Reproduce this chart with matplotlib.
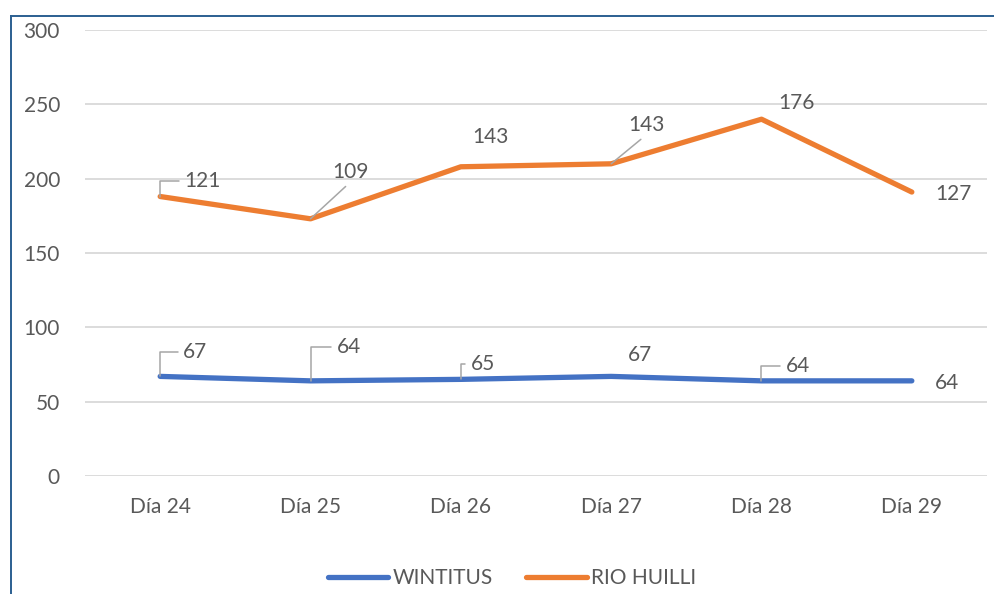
import matplotlib
matplotlib.use("Agg")
import matplotlib.pyplot as plt
import numpy as np
from matplotlib.lines import Line2D

categories = ["Día 24", "Día 25", "Día 26", "Día 27", "Día 28", "Día 29"]
wintitus = np.array([67, 64, 65, 67, 64, 64])
rio_huilli = np.array([121, 109, 143, 143, 176, 127])
y_ticks = [0, 50, 100, 150, 200, 250, 300]

# stacked line chart: second series sits on top of the first
rio_stacked = wintitus + rio_huilli

# label offsets in pixels (text left / centre) and leader style per point
blue_offsets = [(23, 24), (26, 34), (10, 15), (17, 21), (24, 15), (23, -2)]
blue_leaders = ["elbow", "elbow", "elbow", None, "elbow", None]
orange_offsets = [(24, 16), (22, 47), (11, 30), (17, 39), (17, 16), (23, -2)]
orange_leaders = ["elbow", "diag", None, "diag", None, None]

text_color = "#595959"
blue = "#4472C4"
orange = "#ED7D31"
font = "Lato"

plt.rcParams["font.family"] = [font, "DejaVu Sans"]

fig = plt.figure(figsize=(9.94, 5.94), dpi=100)
ax = fig.add_axes([85 / 994, 1 - 476 / 594, 902 / 994, 446 / 594])

x = np.arange(len(categories))
ax.plot(x, wintitus, color=blue, linewidth=3.8, solid_capstyle="round",
        solid_joinstyle="round", label="WINTITUS", zorder=3)
ax.plot(x, rio_stacked, color=orange, linewidth=3.8, solid_capstyle="round",
        solid_joinstyle="round", label="RIO HUILLI", zorder=3)


def add_labels(values, plotted, offsets, leaders):
    for i, (val, yv) in enumerate(zip(values, plotted)):
        dx, dy = offsets[i]
        kind = leaders[i]
        arrow = None
        if kind == "elbow":
            arrow = dict(arrowstyle="-", color="#A6A6A6", lw=1.1,
                         connectionstyle="angle,angleA=0,angleB=90,rad=0",
                         relpos=(0, 0.5), shrinkA=2, shrinkB=0)
        elif kind == "diag":
            arrow = dict(arrowstyle="-", color="#A6A6A6", lw=1.1,
                         relpos=(0.5, 0), shrinkA=2, shrinkB=0)
        ax.annotate(str(val), xy=(x[i], yv), xytext=(dx, dy),
                    textcoords="offset pixels", ha="left", va="center",
                    fontsize=15, color=text_color, arrowprops=arrow, zorder=4)


add_labels(wintitus, wintitus, blue_offsets, blue_leaders)
add_labels(rio_huilli, rio_stacked, orange_offsets, orange_leaders)

ax.set_xlim(-0.5, len(categories) - 0.5)
ax.set_ylim(0, 300)
ax.set_yticks(y_ticks)
ax.set_xticks(x)
ax.set_xticklabels(categories)
ax.yaxis.grid(True, color="#D9D9D9", linewidth=1.3)
ax.set_axisbelow(True)
for side in ax.spines.values():
    side.set_visible(False)
ax.tick_params(axis="both", length=0, labelsize=15, labelcolor=text_color)
ax.tick_params(axis="y", pad=18)
ax.tick_params(axis="x", pad=15)

fig.legend(loc="center", bbox_to_anchor=(512 / 994, 1 - 578 / 594), ncol=2,
           frameon=False, fontsize=15, labelcolor=text_color,
           handlelength=2.9, handletextpad=0.2, columnspacing=1.6)

# chart area border (top and left edges visible)
border = "#2B5F91"
fig.add_artist(Line2D([11 / 994, 11 / 994], [0, 1 - 16 / 594],
                      transform=fig.transFigure, color=border, linewidth=1.4))
fig.add_artist(Line2D([11 / 994, 1], [1 - 16 / 594, 1 - 16 / 594],
                      transform=fig.transFigure, color=border, linewidth=1.4))

fig.savefig("out.png", dpi=100)
